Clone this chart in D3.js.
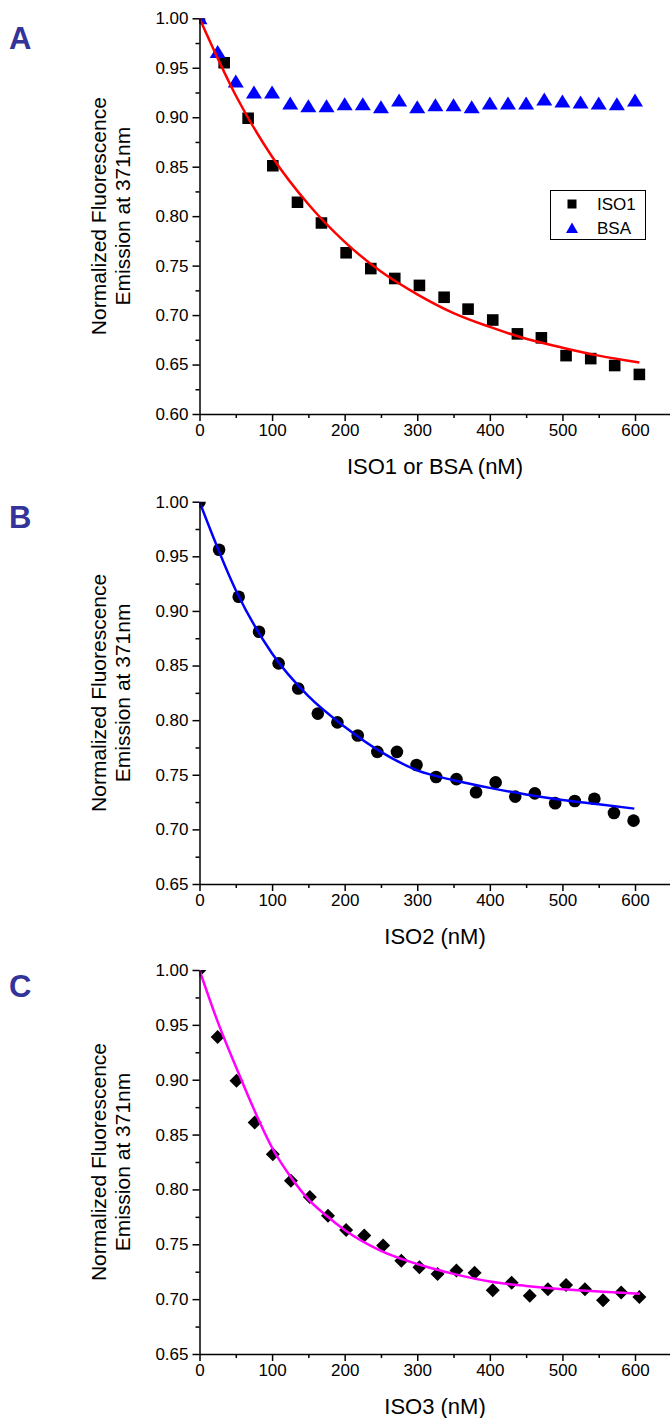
<!DOCTYPE html>
<html>
<head>
<meta charset="utf-8">
<script src="https://cdn.jsdelivr.net/npm/d3@7"></script>
<style>
  body { margin: 0; background: #fff; }
  svg { display: block; font-family: "Liberation Sans", Arial, sans-serif; }
</style>
</head>
<body>
<script>
// tick values
var xMajor = [0, 100, 200, 300, 400, 500, 600];
var xMinor = [50, 150, 250, 350, 450, 550];
var yMajorA = [0.60, 0.65, 0.70, 0.75, 0.80, 0.85, 0.90, 0.95, 1.00];
var yMajorBC = [0.65, 0.70, 0.75, 0.80, 0.85, 0.90, 0.95, 1.00];

// panel A: ISO1 and BSA
var iso1X = [0, 34, 67, 101, 135, 168, 202, 236, 269, 303, 337, 370, 404, 438, 471, 505, 539, 572, 606];
var iso1Y = [1.000, 0.955, 0.899, 0.851, 0.814, 0.793, 0.763, 0.747, 0.737, 0.730, 0.718, 0.706, 0.695, 0.681, 0.677, 0.659, 0.656, 0.649, 0.640];
var bsaX = [0, 25, 50, 75, 100, 125, 150, 175, 200, 225, 250, 275, 300, 325, 350, 375, 400, 425, 450, 475, 500, 525, 550, 575, 600];
var bsaY = [1.000, 0.966, 0.936, 0.925, 0.925, 0.914, 0.911, 0.911, 0.913, 0.913, 0.910, 0.917, 0.910, 0.912, 0.912, 0.910, 0.914, 0.914, 0.914, 0.918, 0.916, 0.915, 0.914, 0.913, 0.917];
var fit1X = [0, 50, 100, 150, 200, 250, 300, 350, 400, 450, 500, 550, 606];
var fit1Y = [1.000, 0.922, 0.860, 0.812, 0.774, 0.744, 0.721, 0.702, 0.688, 0.676, 0.667, 0.659, 0.652];

// panel B: ISO2
var iso2X = [0, 27, 54, 82, 109, 136, 163, 190, 218, 245, 272, 299, 326, 354, 381, 408, 435, 462, 490, 517, 544, 571, 598];
var iso2Y = [1.000, 0.956, 0.913, 0.881, 0.852, 0.829, 0.806, 0.798, 0.786, 0.771, 0.771, 0.759, 0.748, 0.746, 0.734, 0.743, 0.730, 0.733, 0.724, 0.726, 0.728, 0.715, 0.708];
var fit2X = [0, 50, 100, 150, 200, 250, 300, 350, 400, 450, 500, 550, 599];
var fit2Y = [1.000, 0.919, 0.861, 0.822, 0.794, 0.771, 0.754, 0.745, 0.738, 0.732, 0.727, 0.723, 0.719];

// panel C: ISO3
var iso3X = [0, 25, 51, 76, 101, 126, 152, 177, 202, 227, 253, 278, 303, 328, 354, 379, 404, 430, 455, 480, 505, 531, 556, 581, 606];
var iso3Y = [1.000, 0.939, 0.899, 0.861, 0.832, 0.808, 0.793, 0.776, 0.763, 0.758, 0.749, 0.735, 0.729, 0.723, 0.726, 0.724, 0.708, 0.715, 0.703, 0.709, 0.713, 0.709, 0.699, 0.706, 0.702];
var fit3X = [0, 25, 50, 75, 100, 125, 150, 175, 200, 250, 300, 350, 400, 450, 500, 550, 607];
var fit3Y = [1.000, 0.953, 0.912, 0.873, 0.838, 0.812, 0.791, 0.776, 0.763, 0.744, 0.732, 0.723, 0.716, 0.712, 0.709, 0.707, 0.705];

var yTitle1 = "Normalized Fluorescence";
var yTitle2 = "Emission at 371nm";

var svg = d3.select("body").append("svg")
    .attr("width", 670)
    .attr("height", 1418);

var pts = function(xs, ys) {
    return xs.map(function(x, i) { return {x: x, y: ys[i]}; });
};

var squarePath = "M-5.8,-5.8H5.8V5.8H-5.8Z";
var trianglePath = "M0,-7L8,6L-8,6Z";
var diamondPath = "M0,-7L7,0L0,7L-7,0Z";

var drawPanel = function(cfg, idx) {
    var x = d3.scaleLinear().domain([0, 650]).range([199.5, 671.3]);
    var y = d3.scaleLinear().domain([cfg.yMin, 1.0]).range([cfg.bottom, cfg.top]);
    var g = svg.append("g");

    var clipId = "clip" + idx;
    g.append("clipPath").attr("id", clipId)
        .append("rect")
            .attr("x", x(0))
            .attr("y", y(1.0))
            .attr("width", 672 - x(0))
            .attr("height", y(cfg.yMin) - y(1.0));

    var plot = g.append("g").attr("clip-path", "url(#" + clipId + ")");

    cfg.series.forEach(function(s) {
        var m = plot.selectAll(null).data(pts(s.xs, s.ys)).enter();
        if (s.shape == "circle") {
            m.append("circle")
                .attr("cx", function(d) { return x(d.x); })
                .attr("cy", function(d) { return y(d.y); })
                .attr("r", 6.3)
                .attr("fill", s.color);
        } else {
            m.append("path")
                .attr("d", s.shape)
                .attr("transform", function(d) {
                    return "translate(" + x(d.x) + "," + y(d.y) + ")";
                })
                .attr("fill", s.color);
        }
    });

    var line = d3.line()
        .x(function(d) { return x(d.x); })
        .y(function(d) { return y(d.y); })
        .curve(d3.curveMonotoneX);
    plot.append("path")
        .datum(pts(cfg.fitX, cfg.fitY))
        .attr("d", line)
        .attr("fill", "none")
        .attr("stroke", cfg.fitColor)
        .attr("stroke-width", 2.5);

    // axes
    var yMinor = cfg.ticks.slice(0, -1).map(function(v) { return v + 0.025; });
    var ax = g.append("g").attr("transform", "translate(0," + cfg.bottom + ")");
    ax.call(d3.axisBottom(x).tickValues(xMajor).tickSize(7).tickPadding(3).tickSizeOuter(0));
    var axm = g.append("g").attr("transform", "translate(0," + cfg.bottom + ")");
    axm.call(d3.axisBottom(x).tickValues(xMinor).tickSize(4).tickFormat("").tickSizeOuter(0));
    axm.select(".domain").remove();

    var ay = g.append("g").attr("transform", "translate(" + x(0) + ",0)");
    ay.call(d3.axisLeft(y).tickValues(cfg.ticks).tickFormat(d3.format(".2f")).tickSize(7).tickPadding(4).tickSizeOuter(0));
    var aym = g.append("g").attr("transform", "translate(" + x(0) + ",0)");
    aym.call(d3.axisLeft(y).tickValues(yMinor).tickSize(4).tickFormat("").tickSizeOuter(0));
    aym.select(".domain").remove();

    g.selectAll(".domain, .tick line")
        .attr("stroke", "#000")
        .attr("stroke-width", 1.5);
    g.selectAll(".tick text")
        .attr("font-size", 17)
        .attr("font-family", "Liberation Sans, Arial, sans-serif")
        .attr("fill", "#000");

    g.append("text")
        .attr("x", 435)
        .attr("y", cfg.bottom + 60)
        .attr("text-anchor", "middle")
        .attr("font-size", 22)
        .text(cfg.xTitle);

    var midY = (cfg.top + cfg.bottom) / 2;
    g.append("text")
        .attr("transform", "translate(106," + midY + ") rotate(-90)")
        .attr("text-anchor", "middle")
        .attr("font-size", 21)
        .text(yTitle1);
    g.append("text")
        .attr("transform", "translate(130," + midY + ") rotate(-90)")
        .attr("text-anchor", "middle")
        .attr("font-size", 21)
        .text(yTitle2);

    g.append("text")
        .attr("x", 9)
        .attr("y", cfg.letterY)
        .attr("font-size", 31)
        .attr("font-weight", "bold")
        .attr("fill", "#333399")
        .text(cfg.letter);

    return g;
};

var gA = drawPanel({
    top: 18.3, bottom: 414, yMin: 0.60, ticks: yMajorA,
    series: [
        {xs: iso1X, ys: iso1Y, shape: squarePath, color: "#000"},
        {xs: bsaX, ys: bsaY, shape: trianglePath, color: "#0000ff"}
    ],
    fitX: fit1X, fitY: fit1Y, fitColor: "#ff0000",
    xTitle: "ISO1 or BSA (nM)", letter: "A", letterY: 49
}, 0);

drawPanel({
    top: 501.7, bottom: 884, yMin: 0.65, ticks: yMajorBC,
    series: [{xs: iso2X, ys: iso2Y, shape: "circle", color: "#000"}],
    fitX: fit2X, fitY: fit2Y, fitColor: "#0000ff",
    xTitle: "ISO2 (nM)", letter: "B", letterY: 528
}, 1);

drawPanel({
    top: 970, bottom: 1354, yMin: 0.65, ticks: yMajorBC,
    series: [{xs: iso3X, ys: iso3Y, shape: diamondPath, color: "#000"}],
    fitX: fit3X, fitY: fit3Y, fitColor: "#ff00ff",
    xTitle: "ISO3 (nM)", letter: "C", letterY: 997
}, 2);

// legend for panel A
var legend = gA.append("g");
legend.append("rect")
    .attr("x", 550.5).attr("y", 190.5)
    .attr("width", 95).attr("height", 49)
    .attr("fill", "#fff")
    .attr("stroke", "#000")
    .attr("stroke-width", 1);
legend.append("path")
    .attr("d", "M-4.5,-4.5H4.5V4.5H-4.5Z")
    .attr("transform", "translate(572,204)")
    .attr("fill", "#000");
legend.append("path")
    .attr("d", "M0,-5.5L6,5L-6,5Z")
    .attr("transform", "translate(572,228)")
    .attr("fill", "#0000ff");
legend.append("text").attr("x", 597).attr("y", 210).attr("font-size", 17).text("ISO1");
legend.append("text").attr("x", 597).attr("y", 234).attr("font-size", 17).text("BSA");
</script>
</body>
</html>
